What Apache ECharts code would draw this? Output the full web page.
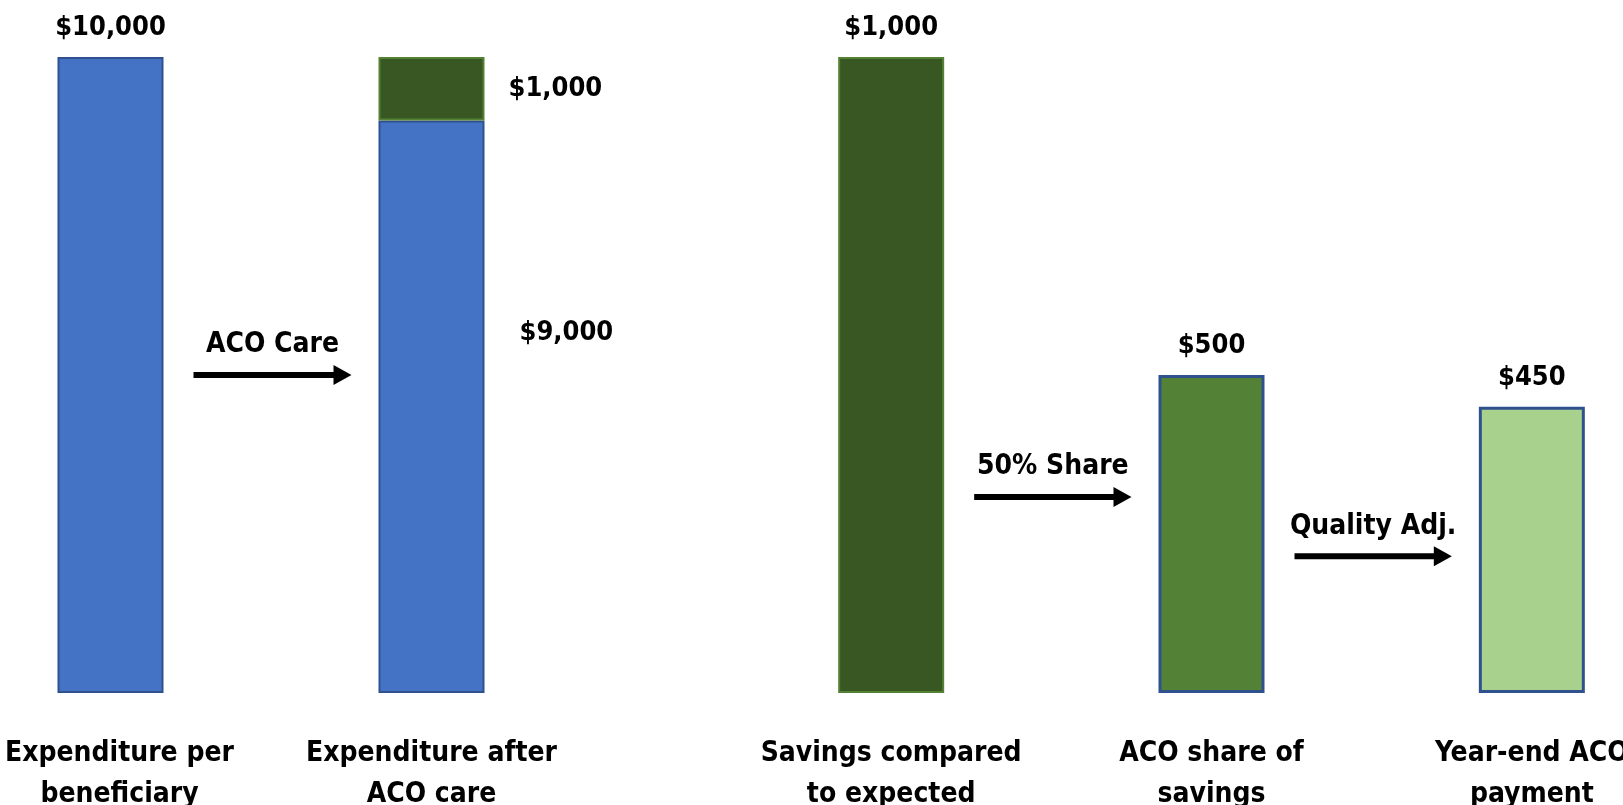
<!DOCTYPE html>
<html><head><meta charset="utf-8">
<script src="https://cdn.jsdelivr.net/npm/echarts@6/dist/echarts.min.js"></script>
<style>html,body{margin:0;padding:0;background:#fff}#c{width:1623px;height:805px}</style>
</head><body><div id="c"></div>
<script>
// ---- data ----
const leftCategories = ['Expenditure per\nbeneficiary', 'Expenditure after\nACO care'];
const leftBase = [10000, 9000];
const leftSavings = ['-', 1000];
const rightCategories = ['Savings compared\nto expected', 'ACO share of\nsavings', 'Year-end ACO\npayment'];
const rightValues = [1000, 500, 450];
const arrowLabels = ['ACO Care', '50% Share', 'Quality Adj.'];
const arrowGrids = [0, 1, 1];
const arrowFrom = [0, 0, 1];
const arrowLevels = [5000, 308, 215];

// ---- style ----
const FONT = "'DejaVu Sans Condensed', 'Liberation Sans Narrow', sans-serif";
const FS = 28, VFS = 27;
const BLUE = '#4472C4', BLUE_B = '#2F528F';
const DKGREEN = '#385723', DKGREEN_B = '#548235';
const MIDGREEN = '#538135';
const LTGREEN = '#A9D18E';
const BW = 106;
const money = v => '$' + Number(v).toLocaleString('en-US');

const chart = echarts.init(document.getElementById('c'));
const labelBase = {color: '#000', fontFamily: FONT, fontWeight: 'bold', fontSize: VFS, lineHeight: 34,
  formatter: p => money(p.value)};
const rightColors = [
  {color: DKGREEN, borderColor: DKGREEN_B, borderWidth: 2},
  {color: MIDGREEN, borderColor: BLUE_B, borderWidth: 3},
  {color: LTGREEN, borderColor: BLUE_B, borderWidth: 3}
];

const xAxisCommon = {
  type: 'category', axisLine: {show: false}, axisTick: {show: false}, splitLine: {show: false},
  axisLabel: {interval: 0, color: '#000', fontFamily: FONT, fontWeight: 'bold', fontSize: FS, lineHeight: 41, margin: 40}
};

chart.setOption({
  animation: false,
  backgroundColor: '#fff',
  grid: [
    {left: -50, width: 642, top: 57, bottom: 112, outerBoundsMode: 'none', containLabel: false},
    {left: 731, width: 961, top: 57, bottom: 112, outerBoundsMode: 'none', containLabel: false}
  ],
  xAxis: [
    Object.assign({gridIndex: 0, data: leftCategories.map((c, i) => i === 0 ? {value: c, textStyle: {padding: [0, 0, 0, 18]}} : c)}, xAxisCommon),
    Object.assign({gridIndex: 1, data: rightCategories}, xAxisCommon)
  ],
  yAxis: [
    {gridIndex: 0, type: 'value', min: 0, max: 10000, show: false, splitLine: {show: false}},
    {gridIndex: 1, type: 'value', min: 0, max: 1000, show: false, splitLine: {show: false}}
  ],
  series: [
    {
      type: 'bar', xAxisIndex: 0, yAxisIndex: 0, stack: 'L', barWidth: BW,
      itemStyle: {color: BLUE, borderColor: BLUE_B, borderWidth: 2},
      data: leftBase.map((v, i) => i === 0
        ? {value: v, label: Object.assign({show: true, position: 'top', distance: 12}, labelBase)}
        : {value: v, label: Object.assign({show: true, position: 'right', distance: 35, offset: [0, -74]}, labelBase)})
    },
    {
      type: 'bar', xAxisIndex: 0, yAxisIndex: 0, stack: 'L', barWidth: BW,
      itemStyle: {color: DKGREEN, borderColor: DKGREEN_B, borderWidth: 2},
      label: Object.assign({show: true, position: 'right', distance: 24}, labelBase),
      data: leftSavings
    },
    {
      type: 'bar', xAxisIndex: 1, yAxisIndex: 1, barWidth: BW,
      label: Object.assign({show: true, position: 'top', distance: 12}, labelBase),
      data: rightValues.map((v, i) => ({value: v, itemStyle: rightColors[i]}))
    }
  ]
});

// arrows between bars, positioned through the axes
function drawArrows() {
  const g = [];
  arrowLabels.forEach((txt, i) => {
    const gi = arrowGrids[i];
    const p0 = chart.convertToPixel({gridIndex: gi}, [arrowFrom[i], arrowLevels[i]]);
    const p1 = chart.convertToPixel({gridIndex: gi}, [arrowFrom[i] + 1, arrowLevels[i]]);
    const x0 = p0[0] + BW / 2 + 30, x1 = p1[0] - BW / 2 - 27, y = p0[1];
    const head = 18;
    g.push({type: 'rect', shape: {x: x0, y: y - 3, width: x1 - x0 - head + 2, height: 6}, style: {fill: '#000'}, silent: true});
    g.push({type: 'polygon', shape: {points: [[x1 - head, y - 10], [x1, y], [x1 - head, y + 10]]}, style: {fill: '#000'}, silent: true});
    g.push({type: 'text', x: (x0 + x1) / 2, y: y - 30, style: {text: txt, fill: '#000', font: 'bold ' + FS + 'px ' + FONT,
      align: 'center', verticalAlign: 'middle'}, silent: true});
  });
  chart.setOption({graphic: g});
}
drawArrows();
</script>
</body></html>
